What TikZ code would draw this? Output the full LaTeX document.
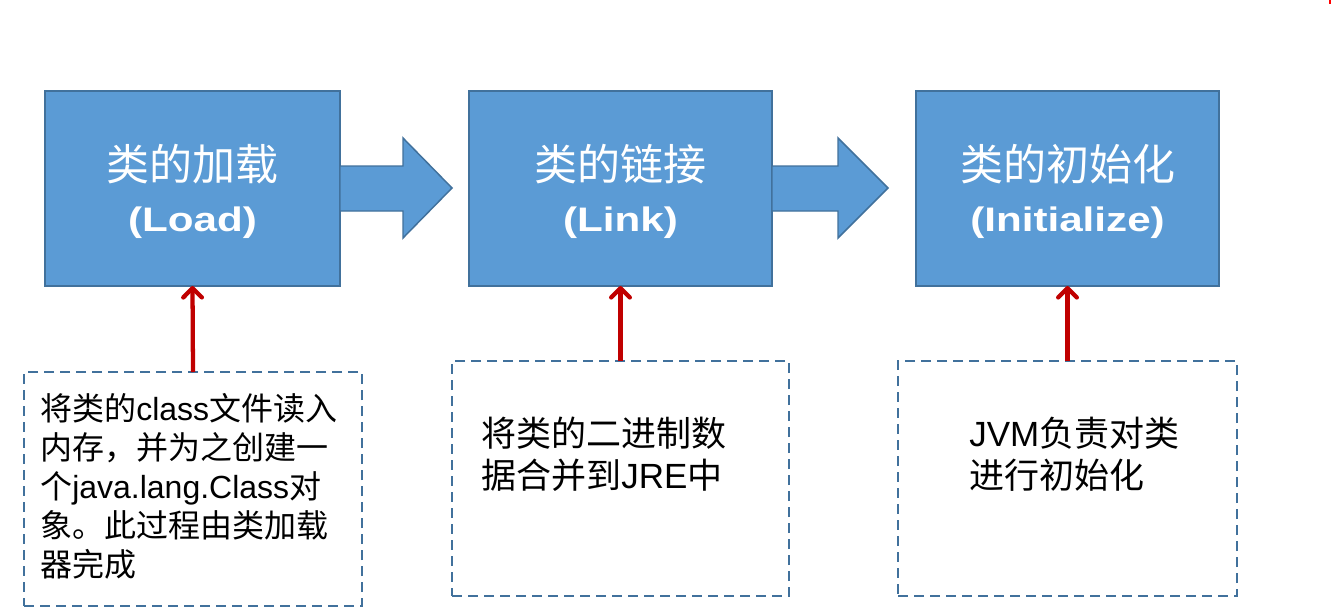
\documentclass[tikz,border=0pt]{standalone}
\usepackage{fontspec}
\setmainfont{Liberation Sans}
\newfontfamily\cjk{Noto Sans CJK SC}
\newfontfamily\latw[FakeStretch=1.24]{Liberation Sans}
\usetikzlibrary{arrows.meta}
\definecolor{boxfill}{HTML}{5B9BD5}
\definecolor{boxline}{HTML}{41719C}
\definecolor{dashline}{HTML}{41719C}
\definecolor{redarrow}{HTML}{C00000}
\begin{document}
\begin{tikzpicture}[x=0.75pt,y=-0.75pt,
  bluebox/.style={draw=boxline, fill=boxfill, line width=1.1pt, inner sep=0pt, outer sep=0pt, minimum height=146.25pt},
  blockarrow/.style={draw=boxline, fill=boxfill, line width=1.1pt, line join=miter},
  dashbox/.style={draw=dashline, dash pattern=on 7.3pt off 4.7pt, line width=1.8pt, inner sep=0pt, outer sep=0pt},
  titlecjk/.style={text=white, font=\fontsize{32.25}{38}\cjk, anchor=base, inner sep=0pt},
  titlelat/.style={text=white, font=\fontsize{25.5}{30}\latw\bfseries, anchor=base, inner sep=0pt},
  smalltext/.style={font=\fontsize{24}{29}\selectfont, anchor=base west, inner sep=0pt},
  bigtext/.style={font=\fontsize{26.25}{31}\selectfont, anchor=base west, inner sep=0pt},
  feed/.style={draw=redarrow, line width=3.2pt, -{Straight Barb[length=7pt,width=14pt,round]}}
]
\useasboundingbox (0,0) rectangle (1331,610);
\fill[white] (0,0) rectangle (1331,610);
\fill[red] (1329,0) rectangle (1331,4);

% dashed description boxes
\node[dashbox, minimum width=253.5pt, minimum height=175.5pt] (d1) at (193,489) {};
\node[dashbox, minimum width=252.75pt, minimum height=176.25pt] (d2) at (620.5,478.5) {};
\node[dashbox, minimum width=254.25pt, minimum height=176.25pt] (d3) at (1067.5,478.5) {};

% blue stage boxes
\node[bluebox, minimum width=221.25pt] (b1) at (192.5,188.5) {};
\node[bluebox, minimum width=227.25pt] (b2) at (620.5,188.5) {};
\node[bluebox, minimum width=227.25pt] (b3) at (1067.5,188.5) {};

% block arrows between boxes
\draw[blockarrow] (b1.east) ++(0,-22.5) -- ++(63,0) -- ++(0,-28) -- ++(49,50) -- ++(-49,50) -- ++(0,-27) -- ++(-63,0) -- cycle;
\draw[blockarrow] (b2.east) ++(0,-22.5) -- ++(66,0) -- ++(0,-28) -- ++(50,50) -- ++(-50,50) -- ++(0,-27) -- ++(-66,0) -- cycle;

% red arrows
\draw[feed] (d1.north) -- (b1.south);
\draw[feed] (d2.north) -- (b2.south);
\draw[feed] (d3.north) -- (b3.south);

% titles
\node[titlecjk] (t1) at (192.5,180) {类的加载};
\node[titlelat] (t1l) at (192.5,231) {(Load)};
\node[titlecjk] (t2) at (620.5,180) {类的链接};
\node[titlelat] (t2l) at (620.5,231) {(Link)};
\node[titlecjk] (t3) at (1067.5,180) {类的初始化};
\node[titlelat] (t3l) at (1067.5,231) {(Initialize)};

% description texts
\node[smalltext] (a1) at (40,420) {{\cjk 将类的}class{\cjk 文件读入}};
\node[smalltext] (a2) at (40,459) {{\cjk 内存，并为之创建一}};
\node[smalltext] (a3) at (40,498) {{\cjk 个}java.lang.Class{\cjk 对}};
\node[smalltext] (a4) at (40,537) {{\cjk 象。此过程由类加载}};
\node[smalltext] (a5) at (40,576) {{\cjk 器完成}};

\node[bigtext] (c1) at (481,446) {{\cjk 将类的二进制数}};
\node[bigtext] (c2) at (481,488) {{\cjk 据合并到}JRE{\cjk 中}};

\node[bigtext] (e1) at (969,446) {JVM{\cjk 负责对类}};
\node[bigtext] (e2) at (969,488) {{\cjk 进行初始化}};
\end{tikzpicture}
\end{document}
